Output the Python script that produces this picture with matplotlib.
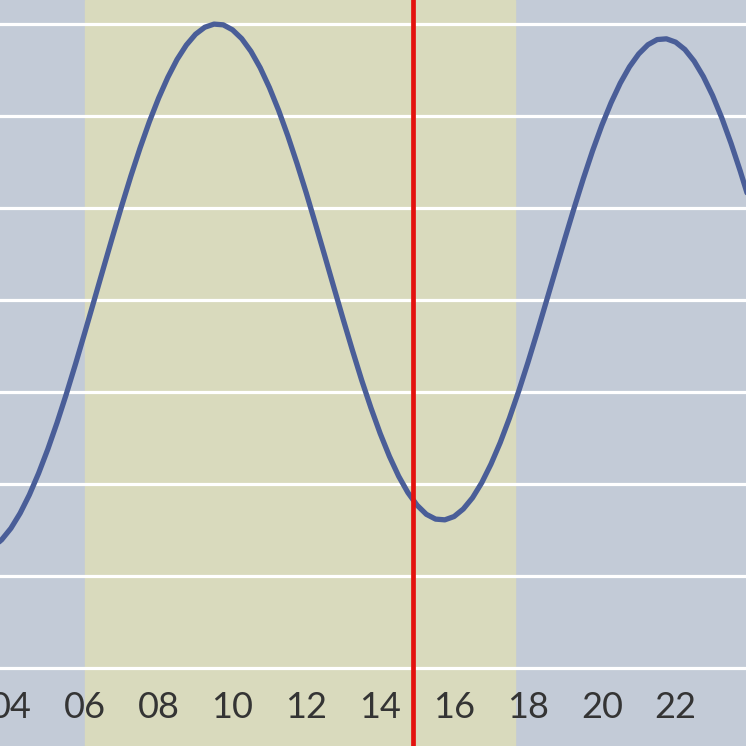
import matplotlib
matplotlib.use("Agg")
import matplotlib.pyplot as plt

# tide level (cm), every 15 minutes
hours = [3.5, 3.75, 4.0, 4.25, 4.5, 4.75, 5.0, 5.25, 5.5, 5.75,
         6.0, 6.25, 6.5, 6.75, 7.0, 7.25, 7.5, 7.75, 8.0, 8.25,
         8.5, 8.75, 9.0, 9.25, 9.5, 9.75, 10.0, 10.25, 10.5, 10.75,
         11.0, 11.25, 11.5, 11.75, 12.0, 12.25, 12.5, 12.75, 13.0, 13.25,
         13.5, 13.75, 14.0, 14.25, 14.5, 14.75, 15.0, 15.25, 15.5, 15.75,
         16.0, 16.25, 16.5, 16.75, 17.0, 17.25, 17.5, 17.75, 18.0, 18.25,
         18.5, 18.75, 19.0, 19.25, 19.5, 19.75, 20.0, 20.25, 20.5, 20.75,
         21.0, 21.25, 21.5, 21.75, 22.0, 22.25, 22.5, 22.75, 23.0, 23.25,
         23.5, 23.75, 24.0]
level = [65.4, 69.7, 75.9, 84.1, 94.1, 105.8, 118.9, 133.3, 148.8, 165.2,
         182.2, 199.5, 216.9, 234.2, 251.1, 267.4, 282.7, 296.9, 309.7, 321.0,
         330.7, 338.5, 344.4, 348.2, 349.9, 349.5, 346.8, 342.0, 335.1, 326.2,
         315.4, 303.0, 289.1, 274.0, 258.0, 241.1, 223.9, 206.5, 189.3, 172.5,
         156.3, 141.3, 127.4, 115.0, 104.2, 95.3, 88.4, 83.5, 80.9, 80.5,
         82.3, 86.4, 92.5, 100.7, 110.8, 122.5, 135.8, 150.4, 166.0, 182.4,
         199.3, 216.3, 233.3, 249.9, 265.9, 281.0, 294.8, 307.1, 317.8, 326.7,
         333.7, 338.7, 341.5, 341.9, 340.1, 336.1, 329.8, 321.4, 311.1, 298.9,
         285.1, 270.0, 253.8]

sunrise = 6.0
sunset = 17.65
now = 14.89
grid_levels = [0, 50, 100, 150, 200, 250, 300, 350]
tick_hours = [4, 6, 8, 10, 12, 14, 16, 18, 20, 22]
tick_labels = ["04", "06", "08", "10", "12", "14", "16", "18", "20", "22"]

fig = plt.figure(figsize=(7.46, 7.46), dpi=100, facecolor="#c3cbd7")
ax = fig.add_axes([0, 0, 1, 1])
ax.patch.set_visible(False)

ax.axvspan(sunrise, sunset, color="#d9dabd", zorder=0)
for g in grid_levels:
    ax.axhline(g, color="white", lw=2.3, zorder=1)

ax.plot(hours, level, color="#4a5e98", lw=3.8, zorder=3, solid_capstyle="round")
ax.axvline(now, color="#e3120f", lw=3.4, zorder=4)

for h, lab in zip(tick_hours, tick_labels):
    ax.text(h, 0.052, lab, transform=ax.get_xaxis_transform(),
            ha="center", va="center", fontsize=26, color="#343434",
            family="Lato", zorder=5)

ax.set_xlim(3.705, 23.905)
ax.set_ylim(-42.4, 363.0)
ax.axis("off")

fig.savefig("out.png", dpi=100, facecolor=fig.get_facecolor())
